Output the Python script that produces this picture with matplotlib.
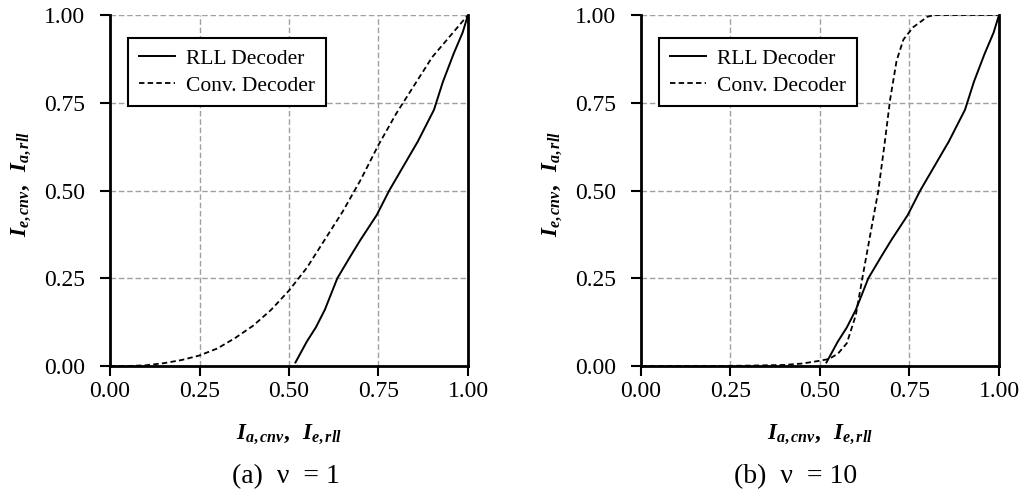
"""EXIT-style transfer curves: RLL decoder vs. convolutional decoder, nu = 1 and nu = 10."""

import matplotlib
matplotlib.use("Agg")
import matplotlib.pyplot as plt

plt.rcParams["font.family"] = ["Liberation Serif", "DejaVu Serif"]
plt.rcParams["mathtext.fontset"] = "custom"
plt.rcParams["mathtext.it"] = "Liberation Serif:italic:bold"
plt.rcParams["mathtext.rm"] = "Liberation Serif:bold"
plt.rcParams["mathtext.bf"] = "Liberation Serif:bold"

# RLL decoder curve (same in both panels)
rll_x = [0.518, 0.55, 0.575, 0.60, 0.635, 0.67, 0.70, 0.745, 0.78, 0.82,
         0.86, 0.885, 0.905, 0.93, 0.96, 0.985, 1.0]
rll_y = [0.01, 0.07, 0.11, 0.16, 0.25, 0.31, 0.36, 0.43, 0.50, 0.57,
         0.64, 0.69, 0.73, 0.81, 0.89, 0.95, 1.0]

# Conv. decoder, nu = 1
conv1_x = [0.0, 0.05, 0.10, 0.15, 0.20, 0.25, 0.30, 0.35, 0.40, 0.45, 0.50,
           0.55, 0.60, 0.65, 0.70, 0.75, 0.80, 0.85, 0.90, 0.95, 1.00]
conv1_y = [0.0, 0.0, 0.002, 0.008, 0.017, 0.03, 0.05, 0.08, 0.115, 0.16, 0.215,
           0.28, 0.36, 0.44, 0.53, 0.63, 0.72, 0.80, 0.88, 0.94, 1.00]

# Conv. decoder, nu = 10
conv10_x = [0.0, 0.1, 0.2, 0.3, 0.4, 0.45, 0.5, 0.525, 0.55, 0.575, 0.60, 0.62,
            0.645, 0.663, 0.68, 0.696, 0.714, 0.733, 0.76, 0.80, 0.82, 0.9, 1.0]
conv10_y = [0.0, 0.0, 0.0, 0.001, 0.003, 0.007, 0.015, 0.02, 0.035, 0.065, 0.145, 0.26,
            0.40, 0.50, 0.63, 0.76, 0.87, 0.93, 0.965, 0.995, 1.0, 1.0, 1.0]

ticks = [0.0, 0.25, 0.5, 0.75, 1.0]
tick_labels = ["0.00", "0.25", "0.50", "0.75", "1.00"]
captions = ["(a)  \u03bd  = 1", "(b)  \u03bd  = 10"]

fig = plt.figure(figsize=(10.2, 4.94), dpi=100)
W, H = 1020, 494
ax_l = fig.add_axes([110 / W, (H - 366) / H, 358 / W, 351 / H])
ax_r = fig.add_axes([641 / W, (H - 366) / H, 358 / W, 351 / H])

panels = [(ax_l, conv1_x, conv1_y, 286), (ax_r, conv10_x, conv10_y, 796)]

for i, (ax, cx, cy, cap_x) in enumerate(panels):
    ax.plot(rll_x, rll_y, color="black", lw=1.4, label="RLL Decoder")
    ax.plot(cx, cy, color="black", lw=1.3, dashes=(3, 1.8), label="Conv. Decoder")

    ax.set_xlim(0, 1)
    ax.set_ylim(0, 1)
    ax.set_xticks(ticks)
    ax.set_yticks(ticks)
    ax.set_xticklabels(tick_labels)
    ax.set_yticklabels(tick_labels)
    ax.tick_params(axis="both", direction="out", length=7, width=1.5,
                   labelsize=17, color="black")
    ax.tick_params(axis="x", pad=4)
    ax.tick_params(axis="y", pad=11)
    ax.grid(True, color="#a0a0a0", lw=1.0, dashes=(4, 2))
    ax.set_axisbelow(True)

    for side in ("left", "bottom", "right"):
        ax.spines[side].set_linewidth(2.0)
        ax.spines[side].set_color("black")
    ax.spines["top"].set_visible(False)

    ax.set_xlabel(r"$I_{a,cnv},\;\; I_{e,rll}$", fontsize=16.5)
    ax.set_ylabel(r"$I_{e,cnv},\;\; I_{a,rll}$", fontsize=16.5)
    ax.xaxis.set_label_coords(0.5, -0.163)
    ax.yaxis.set_label_coords(-0.215, 0.52)

    leg = ax.legend(loc="upper left", bbox_to_anchor=(0.05, 0.934), borderaxespad=0,
                    fontsize=15.5, frameon=True, fancybox=False, framealpha=1,
                    edgecolor="black", handlelength=1.7, handletextpad=0.5,
                    labelspacing=0.3, borderpad=0.5)
    leg.get_frame().set_linewidth(1.5)

    fig.text(cap_x / W, (H - 477) / H, captions[i], ha="center", va="center",
             fontsize=20, family=["Liberation Serif", "DejaVu Serif"])

fig.savefig("out.png", dpi=100)
